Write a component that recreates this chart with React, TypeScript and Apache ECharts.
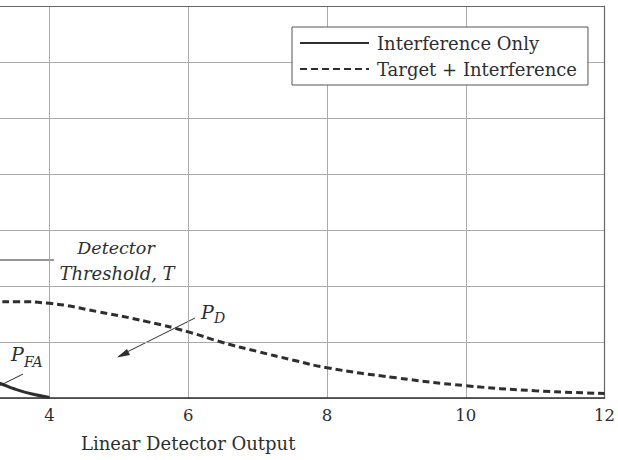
import React, { useEffect, useRef } from "react";
import * as echarts from "echarts";

// Interference only (solid) – visible tail
const interfX = [3.0, 3.27, 3.5, 3.75, 4.0];
const interfY = [0.038, 0.027, 0.016, 0.007, 0.001];

// Target + Interference (dashed)
const targetX = [3.0, 3.27, 3.5, 4.0, 4.7, 5.42, 6.0, 6.5, 7.0, 7.5, 8.0, 9.0, 10.0, 11.0, 12.0];
const targetY = [0.171, 0.172, 0.172, 0.169, 0.154, 0.136, 0.118, 0.099, 0.083, 0.068, 0.054, 0.036, 0.022, 0.013, 0.008];

// tick labels visible in the picture
const xTickLabels = [4, 6, 8, 10, 12];
const seriesNames = ["Interference Only", "Target + Interference"];

const FONT = "DejaVu Serif";
const INK = "#2e2e2e";
// The picture shows only the right part of the plot: the chart is drawn wider and shifted left.
const OFF = 228;
const W = 618 + OFF;

export default function App() {
  const ref = useRef<HTMLDivElement>(null);
  useEffect(() => {
    if (!ref.current) return;
    const chart = echarts.init(ref.current, undefined, { renderer: "svg" });
    const interfData = interfX.map((x, i) => [x, interfY[i]]);
    const targetData = targetX.map((x, i) => [x, targetY[i]]);
    const it = (s: number) => `italic ${s}px '${FONT}'`;
    chart.setOption({
      animation: false,
      backgroundColor: "#fff",
      grid: { left: 0, right: 10, top: 6, bottom: 62, containLabel: false },
      legend: {
        orient: "vertical",
        left: 292 + OFF,
        top: 27,
        padding: [7, 11, 7, 7],
        itemWidth: 69,
        itemHeight: 14,
        itemGap: 8,
        backgroundColor: "#fff",
        borderColor: "#555",
        borderWidth: 1,
        borderRadius: 0,
        itemStyle: { opacity: 0 },
        textStyle: { fontFamily: FONT, fontSize: 18, color: INK, padding: [0, 0, 0, 3] },
        data: seriesNames,
      },
      xAxis: [
        {
          type: "value",
          min: 0,
          max: 12,
          interval: 2,
          name: "Linear Detector Output",
          nameLocation: "middle",
          nameGap: 36,
          nameTextStyle: { fontFamily: FONT, fontSize: 18, color: INK },
          axisLine: { show: true, lineStyle: { color: INK, width: 1.5 } },
          axisTick: { show: false },
          axisLabel: { fontFamily: FONT, fontSize: 16.5, color: INK, margin: 9, customValues: xTickLabels },
          splitLine: { show: true, lineStyle: { color: "#aaa", width: 1 } },
        },
        {
          type: "value",
          position: "top",
          min: 0,
          max: 12,
          interval: 2,
          axisLine: { show: true, onZero: false, lineStyle: { color: "#666", width: 1.2 } },
          axisTick: { show: false },
          axisLabel: { show: false },
          splitLine: { show: false },
        },
      ],
      yAxis: [
        {
          type: "value",
          min: 0,
          max: 0.7,
          interval: 0.1,
          axisLine: { show: false },
          axisTick: { show: false },
          axisLabel: { show: false },
          splitLine: { show: true, lineStyle: { color: "#aaa", width: 1 } },
        },
        {
          type: "value",
          position: "right",
          min: 0,
          max: 0.7,
          interval: 0.1,
          axisLine: { show: true, onZero: false, lineStyle: { color: "#666", width: 1.2 } },
          axisTick: { show: false },
          axisLabel: { show: false },
          splitLine: { show: false },
        },
      ],
      series: [
        {
          name: seriesNames[0],
          type: "line",
          data: interfData,
          smooth: true,
          symbol: "none",
          lineStyle: { color: INK, width: 3, type: "solid" },
          itemStyle: { color: INK },
          z: 5,
        },
        {
          name: seriesNames[1],
          type: "line",
          data: targetData,
          smooth: true,
          symbol: "none",
          lineStyle: { color: INK, width: 3, type: [7, 4] },
          itemStyle: { color: INK },
          z: 5,
        },
      ],
      graphic: [
        {
          type: "line",
          shape: { x1: OFF - 5, y1: 260, x2: OFF + 54, y2: 260 },
          style: { stroke: INK, lineWidth: 1 },
        },
        {
          type: "text",
          x: OFF + 116,
          y: 248,
          style: { text: "Detector", font: it(17.5), fill: INK, align: "center", verticalAlign: "middle" },
        },
        {
          type: "text",
          x: OFF + 117,
          y: 273,
          style: { text: "Threshold, T", font: it(18), fill: INK, align: "center", verticalAlign: "middle" },
        },
        {
          type: "text",
          x: OFF + 201,
          y: 312,
          style: { text: "P", font: it(19), fill: INK, align: "left", verticalAlign: "middle" },
        },
        {
          type: "text",
          x: OFF + 214,
          y: 318,
          style: { text: "D", font: it(14), fill: INK, align: "left", verticalAlign: "middle" },
        },
        {
          type: "line",
          shape: { x1: OFF + 195, y1: 318, x2: OFF + 119, y2: 356 },
          style: { stroke: INK, lineWidth: 1 },
        },
        {
          type: "polygon",
          shape: { points: [[OFF + 117, 357.5], [OFF + 127, 349], [OFF + 130, 355]] },
          style: { fill: INK },
        },
        {
          type: "text",
          x: OFF + 11,
          y: 354,
          style: { text: "P", font: it(19), fill: INK, align: "left", verticalAlign: "middle" },
        },
        {
          type: "text",
          x: OFF + 24,
          y: 362,
          style: { text: "FA", font: it(14), fill: INK, align: "left", verticalAlign: "middle" },
        },
        {
          type: "line",
          shape: { x1: OFF + 23, y1: 374, x2: OFF - 5, y2: 388 },
          style: { stroke: INK, lineWidth: 1 },
        },
      ],
    });
    return () => chart.dispose();
  }, []);
  return (
    <div style={{ position: "fixed", left: 0, top: 0, width: 618, height: 460, overflow: "hidden", background: "#fff" }}>
      <div ref={ref} style={{ position: "absolute", left: -OFF, top: 0, width: W, height: 460 }} />
    </div>
  );
}
